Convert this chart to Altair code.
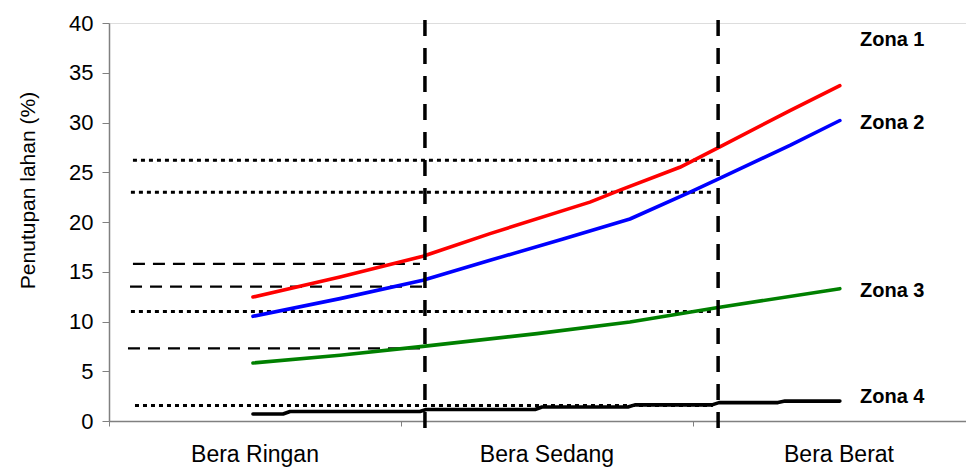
import altair as alt
import pandas as pd

FONT = "Liberation Sans"

# ---- data ----
zona1_x = [0.493, 0.791, 1.075, 1.305, 1.647, 1.750, 1.955, 2.082, 2.332, 2.503]
zona1_y = [12.46, 14.47, 16.55, 18.83, 22.0, 23.2, 25.5, 27.4, 31.2, 33.7]

zona2_x = [0.493, 0.791, 1.075, 1.305, 1.555, 1.784, 1.990, 2.082, 2.332, 2.503]
zona2_y = [10.52, 12.3, 14.14, 16.15, 18.3, 20.3, 23.0, 24.26, 27.7, 30.2]

zona3_x = [0.493, 0.791, 1.075, 1.466, 1.784, 2.086, 2.503]
zona3_y = [5.83, 6.6, 7.5, 8.78, 9.95, 11.4, 13.3]

zona4_x = [0.493, 0.596, 0.620, 1.065, 1.086, 1.459, 1.483, 1.777, 1.801, 2.065, 2.089, 2.291, 2.315, 2.503]
zona4_y = [0.7, 0.7, 0.95, 0.95, 1.15, 1.15, 1.4, 1.4, 1.62, 1.62, 1.85, 1.85, 2.0, 2.0]

series_names = ["Zona 1", "Zona 2", "Zona 3", "Zona 4"]
series_colors = ["#FF0000", "#0000FF", "#008000", "#000000"]

# horizontal reference lines (threshold values)
dotted_y = [26.2, 23.0, 11.0, 1.55]
dotted_x1 = [0.082, 0.075, 0.075, 0.089]
dotted_x2 = [2.068, 2.068, 2.068, 2.068]

dashed_y = [15.8, 13.5, 7.3]
dashed_x1 = [0.082, 0.072, 0.065]
dashed_x2 = [1.065, 1.092, 1.065]

# vertical class boundaries
bound_x = [1.082, 2.086]
bound_y1 = [40.3, 40.3]
bound_y2 = [-0.8, -0.8]

categories = ["Bera Ringan", "Bera Sedang", "Bera Berat"]
category_pos = [0.5, 1.5, 2.5]

zone_label_x = [2.572, 2.572, 2.572, 2.572]
zone_label_y = [38.3, 30.0, 13.1, 2.4]

y_ticks = [0, 5, 10, 15, 20, 25, 30, 35, 40]

# ---- tables ----
rows = []
for name, xs, ys in zip(series_names, [zona1_x, zona2_x, zona3_x, zona4_x],
                        [zona1_y, zona2_y, zona3_y, zona4_y]):
    for i, (a, b) in enumerate(zip(xs, ys)):
        rows.append({"zona": name, "x": a, "y": b, "o": i})
lines_df = pd.DataFrame(rows)

dotted_df = pd.DataFrame({"x": dotted_x1, "x2": dotted_x2, "y": dotted_y})
dashed_df = pd.DataFrame({"x": dashed_x1, "x2": dashed_x2, "y": dashed_y})
bound_df = pd.DataFrame({"x": bound_x, "y": bound_y1, "y2": bound_y2})
cat_df = pd.DataFrame({"x": category_pos, "label": categories})
zone_df = pd.DataFrame({"x": zone_label_x, "y": zone_label_y, "label": series_names})

PLOT_W = 857
PLOT_H = 398
X_MAX = PLOT_W / 292.0


def X(field="x"):
    return alt.X(
        f"{field}:Q",
        scale=alt.Scale(domain=[0, X_MAX], nice=False, zero=False),
        axis=alt.Axis(values=[0, 1, 2], labels=False, title=None, grid=False,
                      tickSize=5, tickColor="#808080", domainColor="#808080",
                      domainWidth=1.5, tickWidth=1),
    )


def Y(field="y"):
    return alt.Y(
        f"{field}:Q",
        scale=alt.Scale(domain=[0, 40], nice=False, zero=False),
        axis=alt.Axis(values=y_ticks, grid=False, title="Penutupan lahan (%)",
                      titleFont=FONT, titleFontSize=21, titleFontWeight="normal",
                      titleColor="#000000", titleX=-71, titleY=167,
                      titleAlign="center", titleBaseline="bottom", titleAngle=270,
                      labelFont=FONT, labelFontSize=22, labelColor="#000000",
                      labelPadding=9, tickSize=7, tickColor="#808080",
                      domainColor="#808080", domainWidth=1.5),
    )


dotted = alt.Chart(dotted_df).mark_rule(
    color="#000000", strokeWidth=3, strokeDash=[4, 4]
).encode(x=X("x"), x2="x2:Q", y=Y("y"))

dashed = alt.Chart(dashed_df).mark_rule(
    color="#000000", strokeWidth=2.2, strokeDash=[12, 8]
).encode(x=X("x"), x2="x2:Q", y=Y("y"))

lines = alt.Chart(lines_df).mark_line(strokeWidth=3.6, strokeCap="round", strokeJoin="round").encode(
    x=X("x"), y=Y("y"), order="o:Q",
    color=alt.Color("zona:N", scale=alt.Scale(domain=series_names, range=series_colors), legend=None),
)

bounds = alt.Chart(bound_df).mark_rule(
    color="#000000", strokeWidth=3.5, strokeDash=[16, 12]
).encode(x=X("x"), y=Y("y"), y2="y2:Q")

cat_text = alt.Chart(cat_df).mark_text(
    font=FONT, fontSize=23, color="#000000", align="center", baseline="alphabetic"
).encode(x=X("x"), y=alt.value(439), text="label:N")

zone_text = alt.Chart(zone_df).mark_text(
    font=FONT, fontSize=20, fontWeight="bold", color="#000000", align="left", baseline="middle"
).encode(x=X("x"), y=Y("y"), text="label:N")

chart = alt.layer(dotted, dashed, lines, bounds, cat_text, zone_text).properties(
    width=PLOT_W, height=PLOT_H,
    padding={"left": 101, "top": 15, "right": 0, "bottom": 46},
    autosize=alt.AutoSizeParams(type="none"),
).configure_view(stroke=None).configure(background="#FFFFFF")

chart.save("out.html", embed_options={"renderer": "svg", "actions": False})
